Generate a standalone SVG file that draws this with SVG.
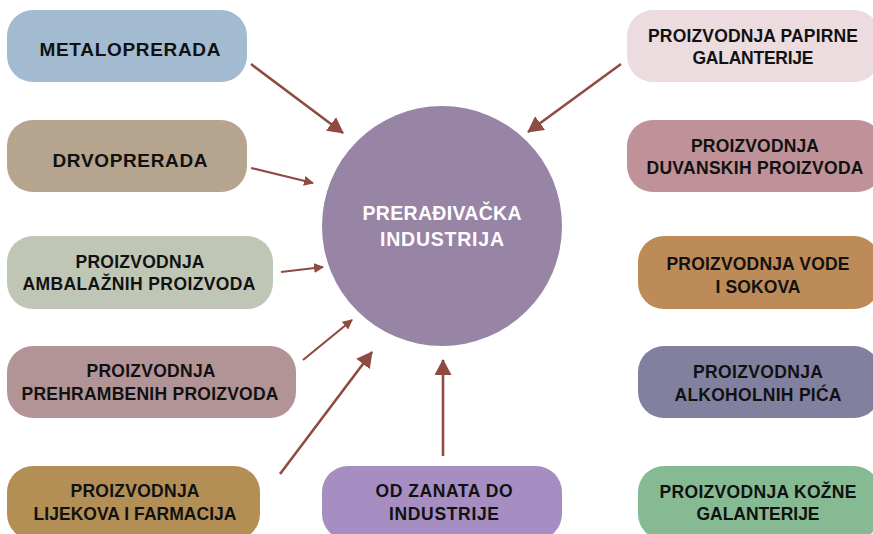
<svg xmlns="http://www.w3.org/2000/svg" width="873" height="534" viewBox="0 0 873 534">
<style>
  .t { font-family: "Liberation Sans", Arial, sans-serif; font-weight: 700; font-size: 17.5px; fill: #111; text-anchor: middle; }
  .big { font-size: 19px; }
  .c { font-family: "Liberation Sans", Arial, sans-serif; font-weight: 700; font-size: 19.5px; fill: #ffffff; text-anchor: middle; }
  .ln { stroke: #8f4a42; fill: none; }
  .thick { stroke-width: 2.6; }
  .thin { stroke-width: 2.2; }
</style>
<defs>
  <marker id="ahBig" markerUnits="userSpaceOnUse" markerWidth="17" markerHeight="17" refX="15" refY="8.5" orient="auto" viewBox="0 0 17 17">
    <path d="M0,0 L16,8.5 L0,17 Z" fill="#8f4a42"/>
  </marker>
  <marker id="ahSmall" markerUnits="userSpaceOnUse" markerWidth="10" markerHeight="10" refX="9" refY="5" orient="auto" viewBox="0 0 10 10">
    <path d="M0,0 L10,5 L0,10 Z" fill="#8f4a42"/>
  </marker>
</defs>

<g id="connectors">
  <line class="ln thick" x1="251" y1="64" x2="343" y2="133" marker-end="url(#ahBig)"/>
  <line class="ln thin" x1="251" y1="168" x2="313" y2="183" marker-end="url(#ahSmall)"/>
  <line class="ln thin" x1="281" y1="272" x2="323" y2="267" marker-end="url(#ahSmall)"/>
  <line class="ln thin" x1="303" y1="360" x2="352" y2="320" marker-end="url(#ahSmall)"/>
  <line class="ln thick" x1="280" y1="474" x2="372" y2="352" marker-end="url(#ahBig)"/>
  <line class="ln thick" x1="443" y1="456" x2="443" y2="360" marker-end="url(#ahBig)"/>
  <line class="ln thick" x1="621" y1="64" x2="528" y2="132" marker-end="url(#ahBig)"/>
</g>

<g id="center">
  <circle cx="442" cy="226" r="120" fill="#9884a5"/>
  <text class="c" x="442" y="220" textLength="159">PRERAĐIVAČKA</text>
  <text class="c" x="442" y="246" textLength="124">INDUSTRIJA</text>
</g>

<g id="metaloprerada">
  <rect x="7" y="10" width="240" height="72" rx="26" fill="#a3bbd1"/>
  <text class="t big" x="130" y="56" textLength="181">METALOPRERADA</text>
</g>
<g id="drvoprerada">
  <rect x="7" y="120" width="240" height="72" rx="26" fill="#b5a48e"/>
  <text class="t big" x="130" y="167" textLength="155">DRVOPRERADA</text>
</g>
<g id="ambalazni">
  <rect x="7" y="236" width="266" height="73" rx="26" fill="#bfc6b6"/>
  <text class="t" x="140" y="268" textLength="129">PROIZVODNJA</text>
  <text class="t" x="139" y="290" textLength="233">AMBALAŽNIH PROIZVODA</text>
</g>
<g id="prehrambeni">
  <rect x="7" y="346" width="289" height="72" rx="26" fill="#b39496"/>
  <text class="t" x="151" y="377" textLength="129">PROIZVODNJA</text>
  <text class="t" x="150" y="400" textLength="257">PREHRAMBENIH PROIZVODA</text>
</g>
<g id="lijekovi">
  <rect x="7" y="466" width="253" height="74" rx="26" fill="#b38f55"/>
  <text class="t" x="135" y="497" textLength="129">PROIZVODNJA</text>
  <text class="t" x="135" y="520" textLength="203">LIJEKOVA I FARMACIJA</text>
</g>
<g id="zanat">
  <rect x="322" y="466" width="240" height="74" rx="26" fill="#a68dc2"/>
  <text class="t" x="444" y="497" textLength="137">OD ZANATA DO</text>
  <text class="t" x="444" y="520" textLength="110">INDUSTRIJE</text>
</g>

<g id="papirna">
  <rect x="627" y="10" width="253" height="72" rx="26" fill="#ecdcdf"/>
  <text class="t" x="753" y="42" textLength="210">PROIZVODNJA PAPIRNE</text>
  <text class="t" x="753" y="64" textLength="121">GALANTERIJE</text>
</g>
<g id="duvan">
  <rect x="627" y="120" width="256" height="72" rx="26" fill="#be9298"/>
  <text class="t" x="755" y="152" textLength="128">PROIZVODNJA</text>
  <text class="t" x="755" y="174" textLength="217">DUVANSKIH PROIZVODA</text>
</g>
<g id="voda">
  <rect x="638" y="236" width="242" height="73" rx="26" fill="#bd8b57"/>
  <text class="t" x="758" y="270" textLength="183">PROIZVODNJA VODE</text>
  <text class="t" x="758" y="293" textLength="85">I SOKOVA</text>
</g>
<g id="alkohol">
  <rect x="638" y="346" width="242" height="72" rx="26" fill="#82809f"/>
  <text class="t" x="758" y="378" textLength="130">PROIZVODNJA</text>
  <text class="t" x="758" y="401" textLength="167">ALKOHOLNIH PIĆA</text>
</g>
<g id="koza">
  <rect x="638" y="466" width="242" height="74" rx="26" fill="#86ba92"/>
  <text class="t" x="758" y="498" textLength="197">PROIZVODNJA KOŽNE</text>
  <text class="t" x="758" y="520" textLength="123">GALANTERIJE</text>
</g>
</svg>
